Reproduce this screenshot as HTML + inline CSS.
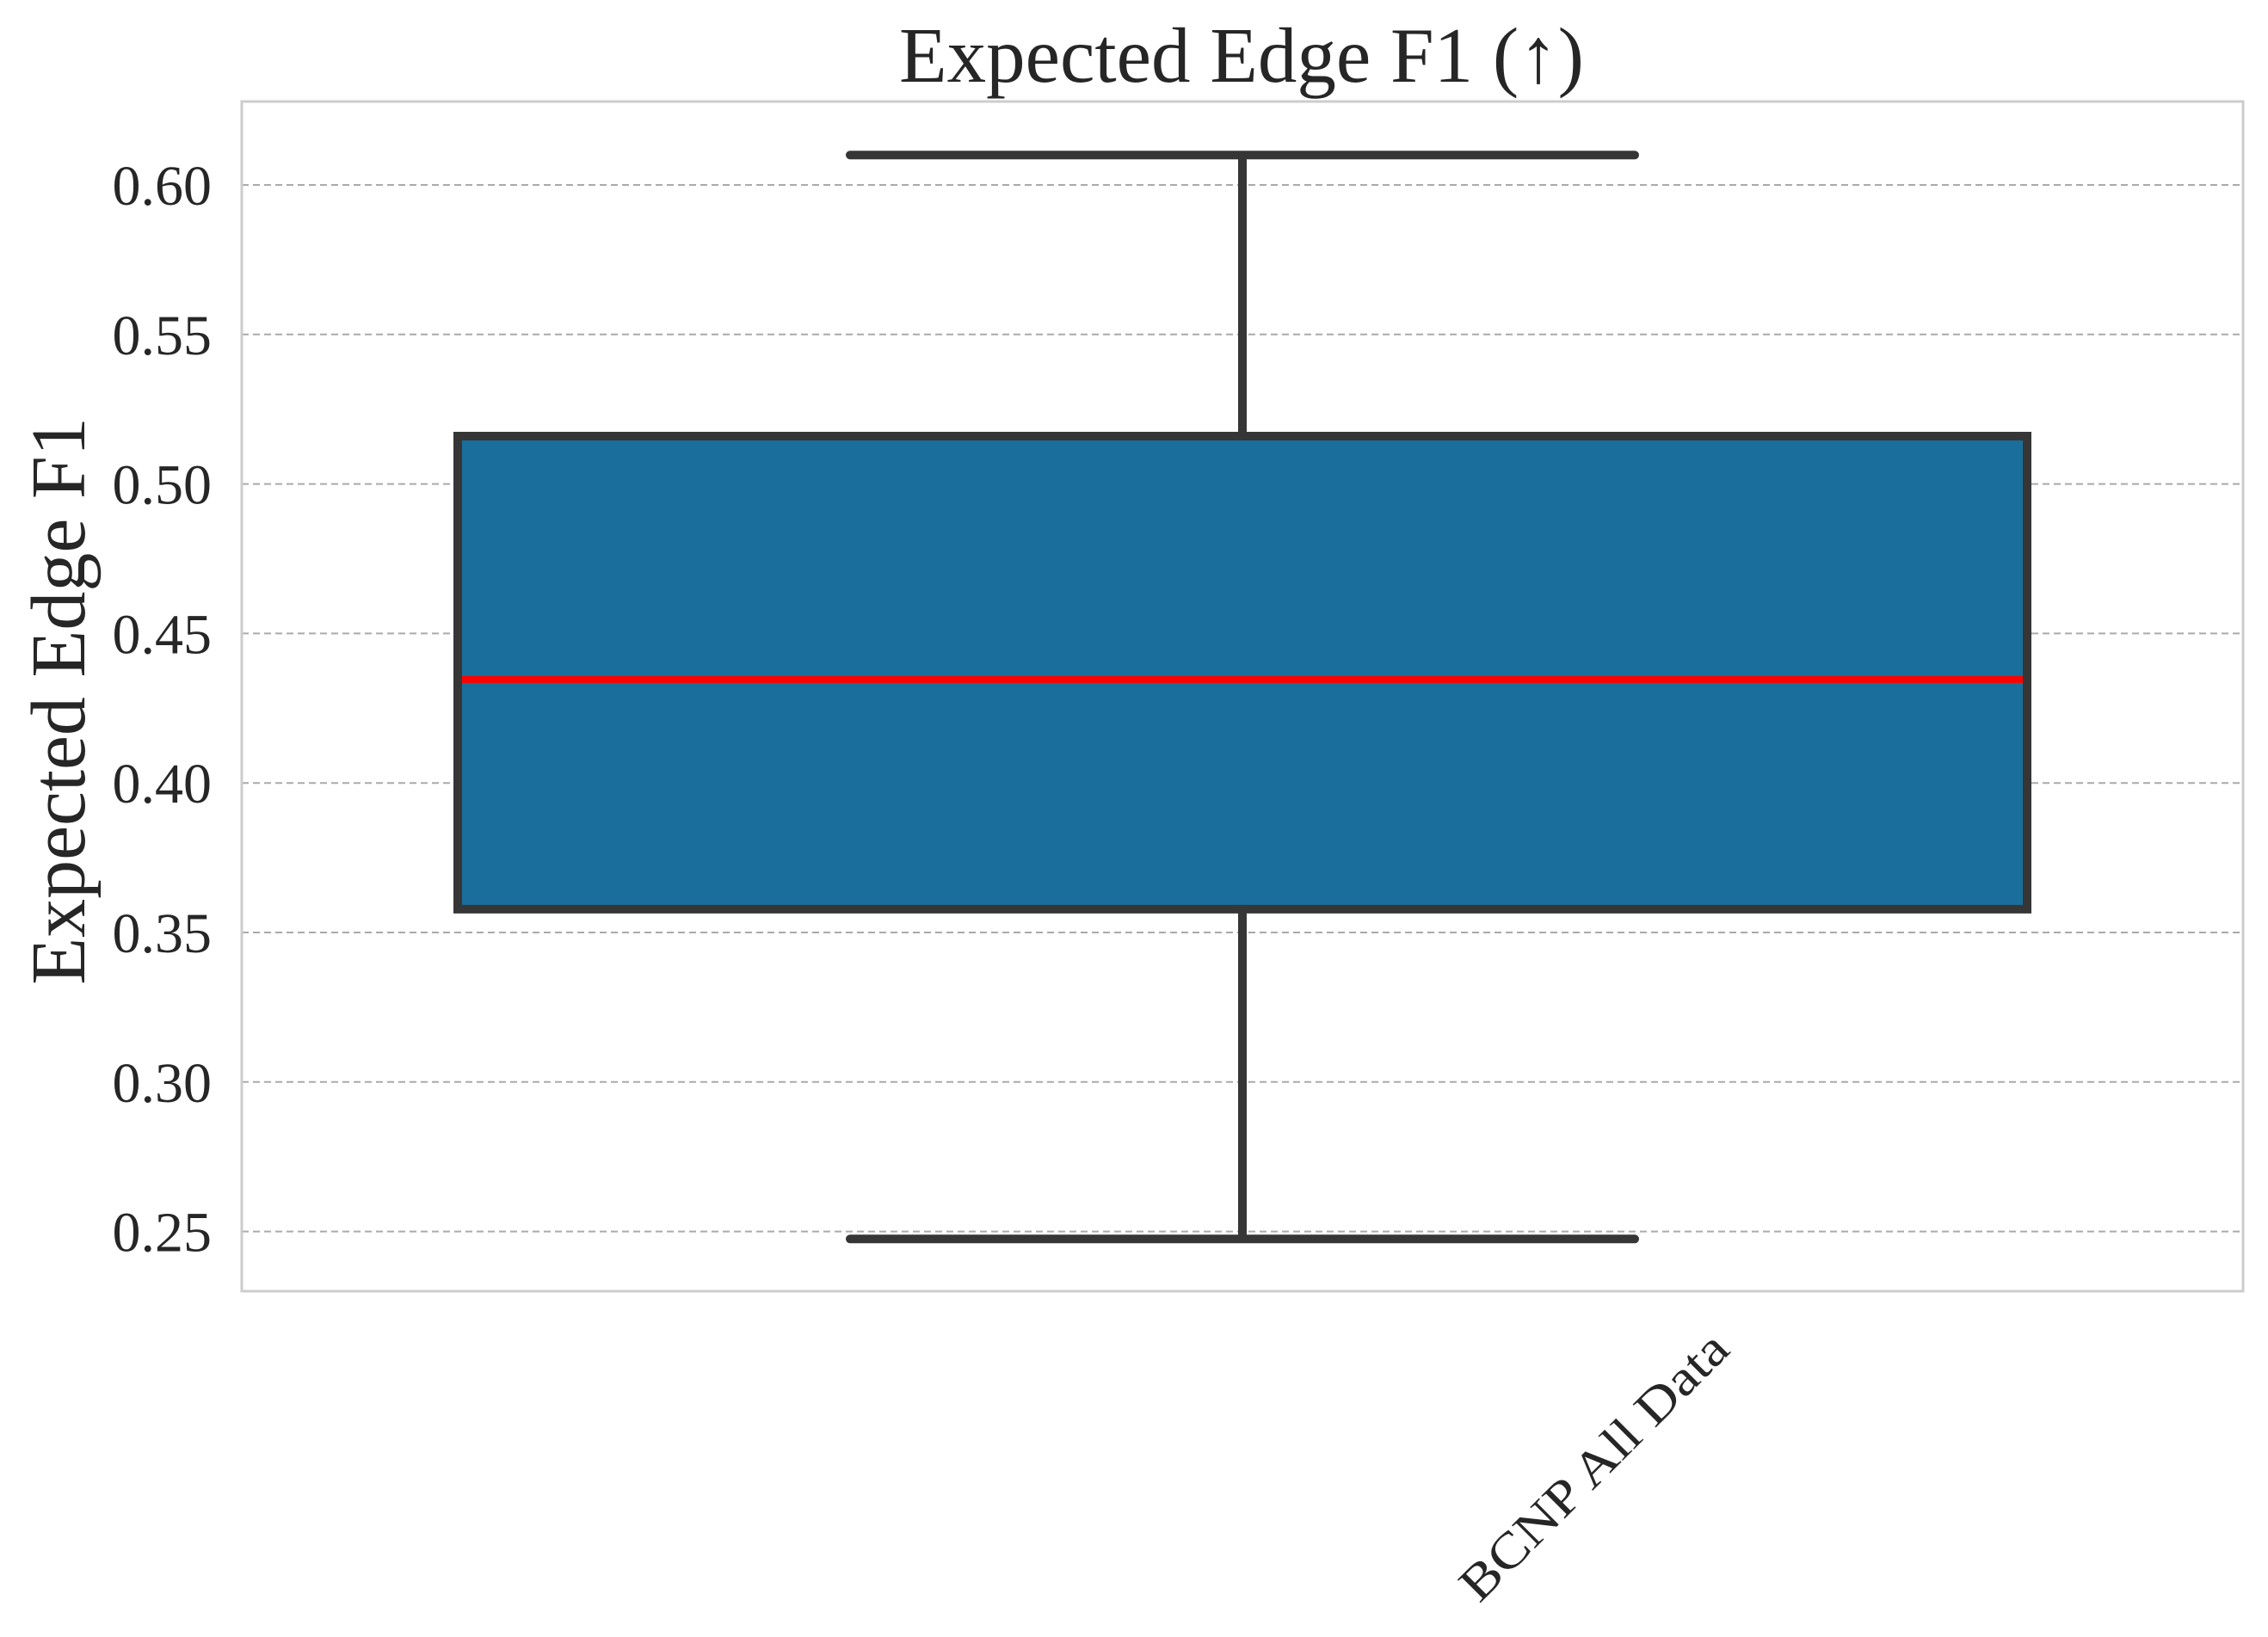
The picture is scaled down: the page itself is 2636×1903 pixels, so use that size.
<!DOCTYPE html>
<html><head><meta charset="utf-8"><style>
html,body{margin:0;padding:0;background:#fff;}
svg{display:block;font-family:"Liberation Serif","Times New Roman",serif;}
</style></head><body>
<svg id="chart" width="2636" height="1903" viewBox="0 0 2636 1903" xmlns="http://www.w3.org/2000/svg">
<rect x="0" y="0" width="2636" height="1903" fill="#fff"/>
<g id="grid"></g>
<g id="yticks"></g>
<g id="boxes"></g>
<rect x="281" y="118" width="2326" height="1383" fill="none" stroke="#cccccc" stroke-width="3"/>
<text x="1443" y="95" font-size="91" fill="#262626" text-anchor="middle">Expected Edge F1 (↑)</text>
<text transform="translate(98,815) rotate(-90)" font-size="90" fill="#262626" text-anchor="middle">Expected Edge F1</text>
<g id="xticks"></g>
</svg>
<script>
const categories = ["BCNP All Data"];
const whiskerLow = [0.2475];
const q1 = [0.3578];
const median = [0.4346];
const q3 = [0.516];
const whiskerHigh = [0.610];
const yTicks = [0.25, 0.30, 0.35, 0.40, 0.45, 0.50, 0.55, 0.60];
const yTickLabels = ["0.25", "0.30", "0.35", "0.40", "0.45", "0.50", "0.55", "0.60"];

const NS = "http://www.w3.org/2000/svg";
const plotL = 281, plotR = 2607;
function y(v){ return 215 + (0.60 - v) / 0.05 * 173.8; }
function xc(i){ return plotL + (i + 0.5) * (plotR - plotL) / categories.length; }
function mk(tag, attrs, parent){
  const e = document.createElementNS(NS, tag);
  for (const k in attrs) e.setAttribute(k, attrs[k]);
  parent.appendChild(e);
  return e;
}
const grid = document.getElementById('grid');
const yt = document.getElementById('yticks');
yTicks.forEach((t, i) => {
  const ln = mk('line', {x1: plotL, x2: plotR, y1: y(t), y2: y(t), stroke: '#aaaaaa', 'stroke-width': 2, 'stroke-dasharray': '8,5'}, grid);
  
  
  const tx = mk('text', {x: 246, y: y(t) + 23, 'font-size': 66, fill: '#262626', 'text-anchor': 'end'}, yt);
  tx.textContent = yTickLabels[i];
  
  
});
const boxes = document.getElementById('boxes');
const xt = document.getElementById('xticks');
const bw = 1824 / categories.length;
categories.forEach((c, i) => {
  const cx = xc(i);
  const g = mk('g', {}, boxes);
  
  
  const w1 = mk('line', {x1: cx, x2: cx, y1: y(whiskerHigh[i]), y2: y(q3[i]), stroke: '#363636', 'stroke-width': 10}, g);
  
  
  const w2 = mk('line', {x1: cx, x2: cx, y1: y(q1[i]), y2: y(whiskerLow[i]), stroke: '#363636', 'stroke-width': 10}, g);
  
  
  const capW = bw * 0.5;
  const c1 = mk('line', {x1: cx - capW/2, x2: cx + capW/2, y1: y(whiskerHigh[i]), y2: y(whiskerHigh[i]), stroke: '#363636', 'stroke-width': 10, 'stroke-linecap': 'round'}, g);
  
  
  const c2 = mk('line', {x1: cx - capW/2, x2: cx + capW/2, y1: y(whiskerLow[i]), y2: y(whiskerLow[i]), stroke: '#363636', 'stroke-width': 10, 'stroke-linecap': 'round'}, g);
  
  
  const r = mk('rect', {x: cx - bw/2, y: y(q3[i]), width: bw, height: y(q1[i]) - y(q3[i]), fill: '#1a6e9c', stroke: '#363636', 'stroke-width': 10}, g);
  
  
  const m = mk('line', {x1: cx - bw/2 + 5, x2: cx + bw/2 - 5, y1: y(median[i]), y2: y(median[i]), stroke: '#ff0000', 'stroke-width': 8}, g);
  
  
  const lx = cx + 422, ly = 1718;
  const lab = mk('text', {transform: 'translate(' + lx + ',' + ly + ') rotate(-45)', 'font-size': 58, fill: '#262626', 'text-anchor': 'middle', textLength: 415, lengthAdjust: 'spacingAndGlyphs'}, xt);
  lab.textContent = c;
  
  
});
</script>
</body></html>
